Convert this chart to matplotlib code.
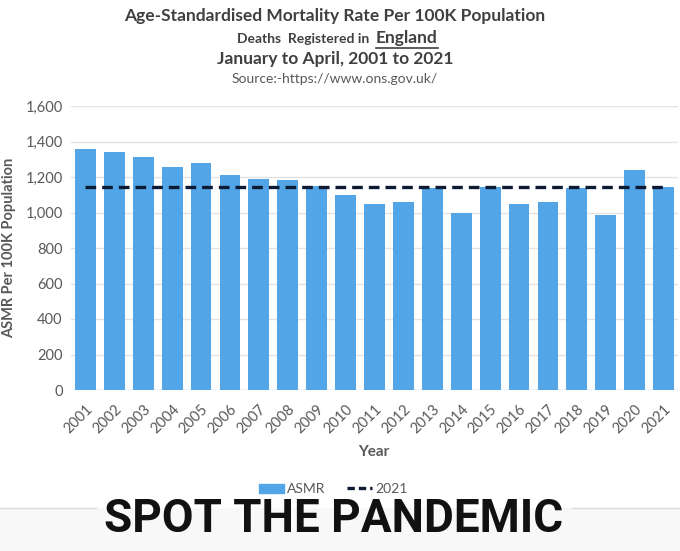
import matplotlib
matplotlib.use("Agg")
import matplotlib.pyplot as plt
from matplotlib.patches import Patch, Rectangle
from matplotlib.lines import Line2D

years = [str(y) for y in range(2001, 2022)]
asmr = [1355, 1342, 1310, 1257, 1280, 1214, 1187, 1184, 1148, 1097, 1046,
        1059, 1138, 997, 1144, 1046, 1059, 1140, 988, 1237, 1142]
ref_2021 = 1144
yticks = [0, 200, 400, 600, 800, 1000, 1200, 1400, 1600]

BAR = '#52a5e6'
GREY = '#595959'
DARK = '#404040'
FONT = 'Lato'

W, H = 680, 551
fig = plt.figure(figsize=(W / 100, H / 100), dpi=100)
fig.patch.set_facecolor('white')


def fx(px):
    return px / W


def fy(py):
    return 1 - py / H


ax = fig.add_axes([fx(71), fy(390), fx(678) - fx(71), fy(106) - fy(390)])
x = list(range(len(years)))
ax.bar(x, asmr, width=0.72, color=BAR, zorder=2, label='ASMR')
ax.plot(x, [ref_2021] * len(x), color='#0d1a33', lw=2.4, dashes=(3.2, 1.8),
        zorder=3, label='2021')

ax.set_xlim(-0.5, len(x) - 0.5)
ax.set_ylim(0, 1600)
ax.set_yticks(yticks)
ax.set_yticklabels([f'{v:,}' for v in yticks], fontsize=10.5, color=GREY,
                   family=FONT)
ax.set_xticks(x)
ax.set_xticklabels(years, rotation=45, ha='right', rotation_mode='anchor',
                   fontsize=10.5, color=GREY, family=FONT)
ax.tick_params(length=0, pad=6)
ax.tick_params(axis='x', pad=9)
ax.grid(axis='y', color='#e3e3e3', lw=1, zorder=0)
for s in ax.spines.values():
    s.set_visible(False)
ax.axhline(0, color='#d9d9d9', lw=1, zorder=1)

ax.set_ylabel('ASMR Per 100K Population', fontsize=10.5, fontweight='bold',
              color=GREY, family=FONT)
ax.yaxis.set_label_coords(-0.091, 0.5)
fig.text(fx(374), fy(452), 'Year', ha='center', va='center', fontsize=11,
         fontweight='bold', color=GREY, family=FONT)

# titles
fig.text(fx(335), fy(16), 'Age-Standardised Mortality Rate Per 100K Population',
         ha='center', va='center', fontsize=12.5, fontweight='bold', color=DARK,
         family=FONT)
fig.text(fx(373), fy(39), 'Deaths  Registered in ', ha='right', va='center',
         fontsize=10, fontweight='bold', color=DARK, family=FONT)
eng = fig.text(fx(376), fy(38), 'England', ha='left', va='center', fontsize=12.5,
               fontweight='bold', color=DARK, family=FONT)
fig.text(fx(335), fy(59), 'January to April, 2001 to 2021', ha='center',
         va='center', fontsize=12.5, fontweight='bold', color=DARK, family=FONT)
fig.text(fx(335), fy(79), 'Source:-https://www.ons.gov.uk/', ha='center',
         va='center', fontsize=10, color=GREY, family=FONT)

fig.canvas.draw()
bb = eng.get_window_extent()
fig.add_artist(Line2D([bb.x0 / W, bb.x1 / W], [fy(48)] * 2, color=DARK, lw=1.2))

# legend
handles = [Patch(color=BAR), Line2D([], [], color='#0d1a33', lw=2.4, dashes=(2.2, 1.2))]
fig.legend(handles, ['ASMR', '2021'], loc='center', bbox_to_anchor=(fx(333), fy(489)),
           ncol=2, frameon=False, labelcolor=GREY,
           prop={'family': FONT, 'size': 10}, handlelength=1.8, handleheight=0.6,
           handletextpad=0.2, columnspacing=1.6)

# bottom caption band
fig.add_artist(Rectangle((0, 0), 1, fy(508), transform=fig.transFigure,
                         color='#f8f8f8', zorder=0))
fig.add_artist(Line2D([0, fx(96)], [fy(508)] * 2, color='#dddddd', lw=1))
fig.add_artist(Line2D([fx(572), 1], [fy(508)] * 2, color='#dddddd', lw=1))
fig.text(fx(334), fy(519), 'SPOT THE PANDEMIC', ha='center', va='center',
         fontsize=33, fontweight='bold', color='#111111', family='Roboto')

fig.savefig('out.png', dpi=100)
